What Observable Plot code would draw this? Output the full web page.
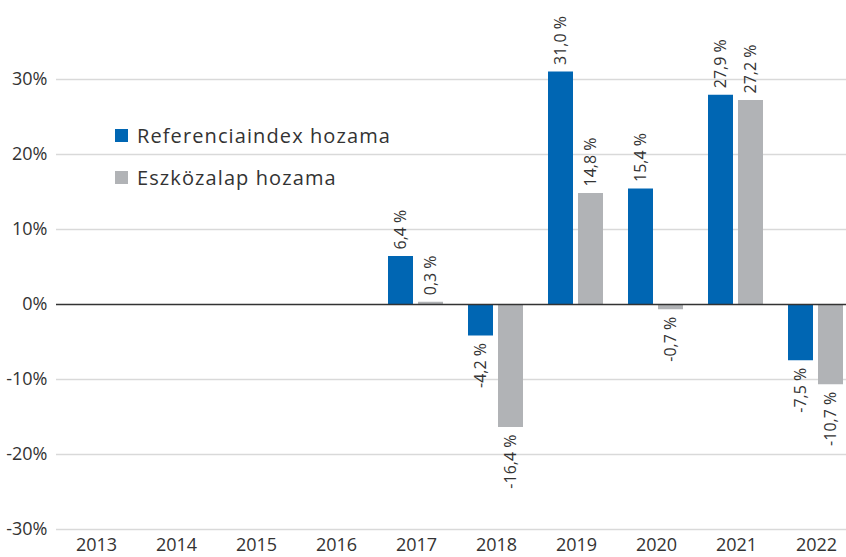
<!DOCTYPE html>
<html>
<head>
<meta charset="utf-8">
<script src="https://cdn.jsdelivr.net/npm/d3@7"></script>
<script src="https://cdn.jsdelivr.net/npm/@observablehq/plot@0.6"></script>
<style>
  html, body { margin: 0; padding: 0; background: #fff; overflow: hidden; }
  #wrap { position: relative; width: 846px; height: 557px; overflow: hidden; }
  #chart svg { max-width: none !important; display: block; }
  #legend { position: absolute; left: 115px; top: 121px; font-family: "Open Sans", sans-serif; font-size: 20px; letter-spacing: 1.1px; color: #333; }
  .item { display: flex; align-items: center; height: 28px; margin-bottom: 14px; white-space: nowrap; }
  .sw { width: 13px; height: 13px; margin-right: 9px; }
</style>
</head>
<body>
<div id="wrap"><div id="chart"></div><div id="legend"></div></div>
<script>
const years = [2013, 2014, 2015, 2016, 2017, 2018, 2019, 2020, 2021, 2022];
const referenceReturns = [null, null, null, null, 6.4, -4.2, 31.0, 15.4, 27.9, -7.5];
const fundReturns = [null, null, null, null, 0.3, -16.4, 14.8, -0.7, 27.2, -10.7];
const seriesNames = ["Referenciaindex hozama", "Eszközalap hozama"];
const seriesColors = ["#0066b3", "#b1b3b6"];
const yTicks = [-30, -20, -10, 0, 10, 20, 30];

const data = [];
years.forEach((yr, i) => {
  data.push({year: yr, series: seriesNames[0], value: referenceReturns[i]});
  data.push({year: yr, series: seriesNames[1], value: fundReturns[i]});
});
const valued = data.filter(d => d.value != null);
const fmt = d => d.value.toFixed(1).replace(".", ",") + " %";

const chart = Plot.plot({
  width: 856,
  height: 557,
  marginLeft: 56,
  marginRight: 0,
  marginTop: 4,
  marginBottom: 28,
  style: {fontFamily: "'Open Sans', sans-serif", fontSize: "18px", color: "#333", background: "#fff", maxWidth: "none"},
  fx: {domain: years, padding: 0, label: null, tickSize: 0, tickPadding: 9, axis: "bottom", tickFormat: d => String(d)},
  x: {domain: seriesNames, paddingInner: 0.155, paddingOuter: 0.396, axis: null},
  y: {domain: [-30, 40], label: null},
  color: {domain: seriesNames, range: seriesColors},
  marks: [
    Plot.ruleY(yTicks.filter(t => t !== 0), {stroke: "#d9d9d9", strokeWidth: 1.5}),
    Plot.barY(data, {fx: "year", x: "series", y: "value", fill: "series"}),
    Plot.ruleY([0], {stroke: "#333", strokeWidth: 1.5}),
    Plot.text(valued.filter(d => d.value >= 0), {fx: "year", x: "series", y: "value", text: fmt, rotate: -90, textAnchor: "start", dy: -7, fontSize: 16, fill: "#333"}),
    Plot.text(valued.filter(d => d.value < 0), {fx: "year", x: "series", y: "value", text: fmt, rotate: -90, textAnchor: "end", dy: 7, fontSize: 16, fill: "#333"}),
    Plot.axisY({ticks: yTicks, tickFormat: d => d + "%", tickSize: 0, tickPadding: 9, fontSize: 18, label: null})
  ]
});
document.getElementById("chart").appendChild(chart);

const legend = document.getElementById("legend");
seriesNames.forEach((name, i) => {
  const item = document.createElement("div");
  item.className = "item";
  const sw = document.createElement("div");
  sw.className = "sw";
  sw.style.background = seriesColors[i];
  const label = document.createElement("span");
  label.textContent = name;
  item.appendChild(sw);
  item.appendChild(label);
  legend.appendChild(item);
});
</script>
</body>
</html>
